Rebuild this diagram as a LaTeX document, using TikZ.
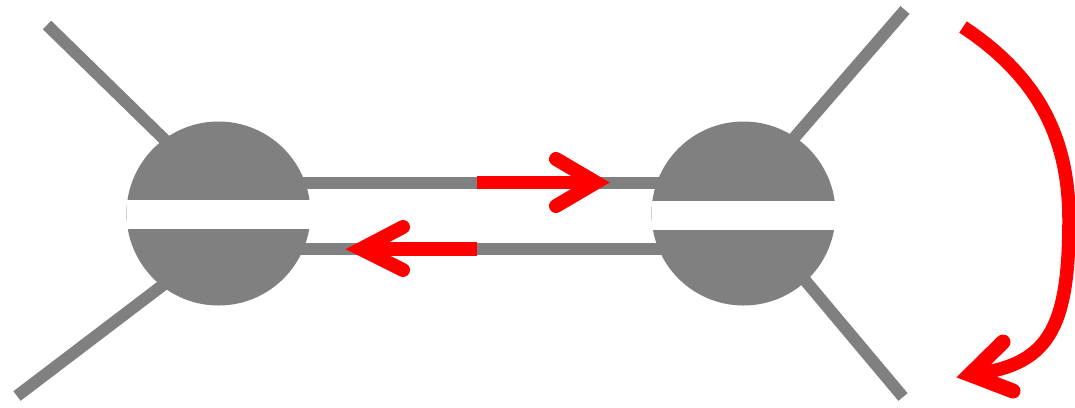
\documentclass[tikz,border=0pt]{standalone}
\usetikzlibrary{calc}
\begin{document}
\begin{tikzpicture}[x=0.02cm, y=-0.02cm,
  bond/.style={line width=0.24cm, draw=black!50},
  flow/.style={line width=0.27cm, draw=red},
  flowhead/.style={line width=0.28cm, draw=red, line cap=round, line join=miter}]
  \def\R{92}
  \useasboundingbox (0,0) rectangle (1075,407);

  % 1. Centres and free ends
  \coordinate (A) at (218.5,213.5);
  \coordinate (B) at (743.5,213.5);
  \coordinate (Anw) at (47,25);
  \coordinate (Asw) at (17,396);
  \coordinate (Bne) at (905,10);
  \coordinate (Bse) at (903,397);

  % 2. Legs (ends hidden under the discs)
  \draw[bond] (Anw) -- (207,181);
  \draw[bond] (Asw) -- (192,263);
  \draw[bond] (Bne) -- (775,160);
  \draw[bond] (Bse) -- (783,254);

  % 3. Double bond between the two discs
  \draw[bond] ($(A)+(0,-31)$) -- ($(B)+(0,-31)$);
  \draw[bond] ($(A)+(0,35.5)$) -- ($(B)+(0,35.5)$);

  % 4. Split discs
  \fill[black!50] (A) circle (\R);
  \fill[white] ($(A)+(-\R,-13.5)$) rectangle ($(A)+(\R,15.5)$);
  \fill[black!50] (B) circle (\R);
  \fill[white] ($(B)+(-\R,-12.5)$) rectangle ($(B)+(\R,16.5)$);

  % 5. Red arrows along the bonds
  \coordinate (Ftip) at (596,182.5);
  \draw[flow] (477,182.5) -- (Ftip);
  \draw[flowhead] (556,159) -- (Ftip) -- (556,206);
  \coordinate (Btip) at (361,249);
  \draw[flow] (477,249) -- (Btip);
  \draw[flowhead] (403,227) -- (Btip) -- (403,270);

  % 6. Curved arrow on the right
  \coordinate (Ctip) at (970,374.5);
  \draw[flow] (963,27) .. controls (1040,78) and (1069,140) .. (1069,220)
    .. controls (1069,330) and (1048,366) .. (Ctip);
  \draw[flowhead, line width=0.3cm] (1003,342) -- (Ctip) -- (1013,391);
\end{tikzpicture}
\end{document}
